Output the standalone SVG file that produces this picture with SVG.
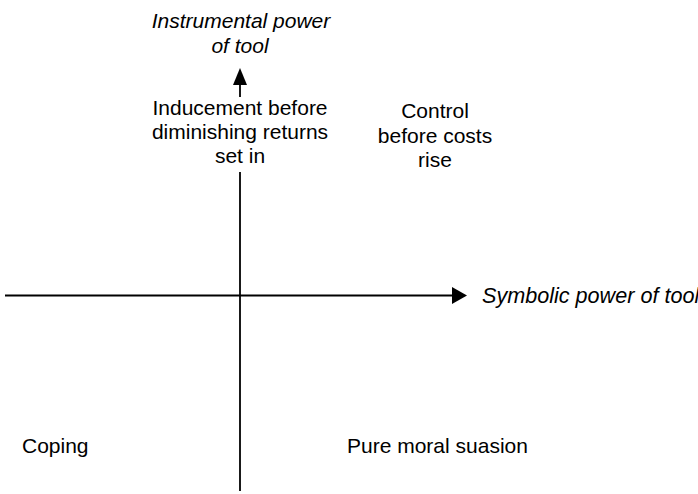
<svg xmlns="http://www.w3.org/2000/svg" width="698" height="494" viewBox="0 0 698 494">
  <style>
    .axis { stroke: #000; stroke-width: 1.8; fill: none; }
    .head { fill: #000; stroke: none; }
    text { font-family: "Liberation Sans", Arial, sans-serif; font-size: 21px; fill: #000; text-anchor: middle; }
    .it { font-style: italic; }
  </style>
  <rect width="698" height="494" fill="#fff"/>
  <g id="connectors">
    <!-- horizontal axis -->
    <line class="axis" x1="5" y1="295.5" x2="454" y2="295.5"/>
    <polygon class="head" points="467,295.5 452,287 452,304"/>
    <!-- vertical axis -->
    <line class="axis" x1="240" y1="172" x2="240" y2="491"/>
    <!-- upward arrow under the vertical axis label -->
    <line class="axis" x1="240" y1="82" x2="240" y2="97"/>
    <polygon class="head" points="240,68 233,85 247,85"/>
  </g>
  <g id="label-instrumental">
    <text class="it" x="241" y="28">Instrumental power</text>
    <text class="it" x="240" y="53">of tool</text>
  </g>
  <g id="label-symbolic">
    <text class="it" x="482" y="303" style="text-anchor:start;font-size:21.6px">Symbolic power of tool</text>
  </g>
  <g id="quadrant-inducement">
    <text x="240" y="115">Inducement before</text>
    <text x="240" y="139">diminishing returns</text>
    <text x="240" y="163">set in</text>
  </g>
  <g id="quadrant-control">
    <text x="435" y="118">Control</text>
    <text x="435" y="143">before costs</text>
    <text x="435" y="167">rise</text>
  </g>
  <g id="quadrant-coping">
    <text x="22" y="453" style="text-anchor:start">Coping</text>
  </g>
  <g id="quadrant-suasion">
    <text x="347" y="453" style="text-anchor:start">Pure moral suasion</text>
  </g>
</svg>
